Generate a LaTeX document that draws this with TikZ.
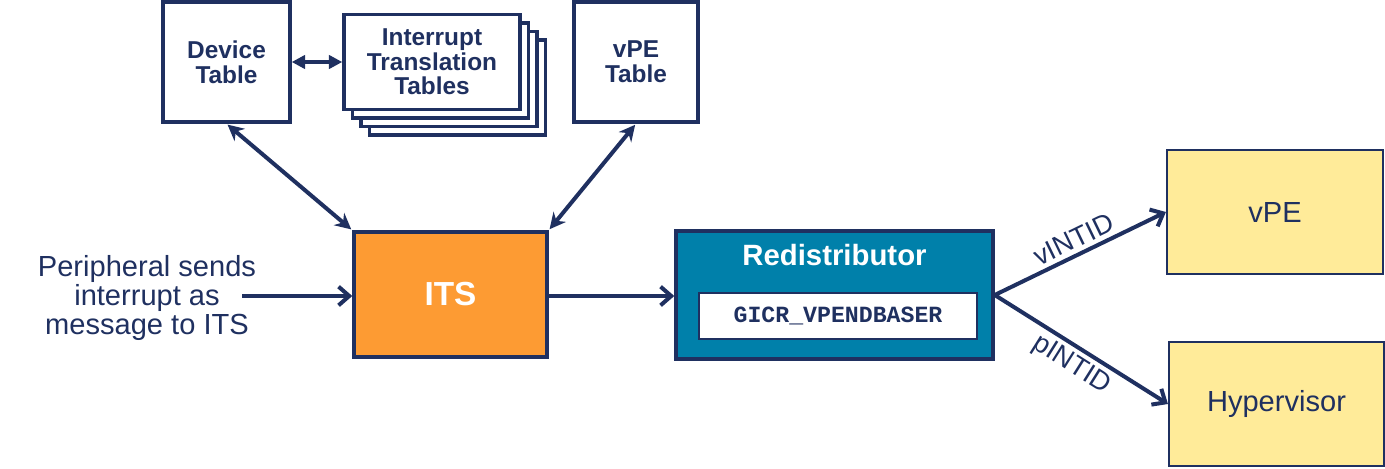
\documentclass[tikz,border=0pt]{standalone}
\usepackage{fontspec}
\setmainfont{Liberation Sans}
\newfontfamily\monof{Liberation Mono}
\usetikzlibrary{arrows.meta}
\definecolor{navy}{RGB}{31,48,96}
\definecolor{itsorange}{RGB}{253,155,51}
\definecolor{redteal}{RGB}{0,128,170}
\definecolor{paleyellow}{RGB}{255,235,153}
\tikzset{
  tablebox/.style={draw=navy, line width=2.6pt, fill=white, align=center,
    text=navy, font=\fontsize{18.3}{18.5}\selectfont\bfseries, inner sep=0pt},
  itsbox/.style={draw=navy, line width=2.6pt, fill=itsorange, text=white,
    font=\fontsize{25}{28}\selectfont\bfseries, inner sep=0pt},
  redbox/.style={draw=navy, line width=2.6pt, fill=redteal, inner sep=0pt},
  regbox/.style={draw=navy, line width=1.6pt, fill=white, text=navy,
    font=\monof\fontsize{17.4}{20}\selectfont\bfseries, inner sep=0pt},
  ybox/.style={draw=navy, line width=1.6pt, fill=paleyellow, text=navy,
    font=\fontsize{21.8}{24}\selectfont, inner sep=0pt},
  dblarrow/.style={draw=navy, line width=3pt, {Stealth[length=12pt,width=12pt]}-{Stealth[length=12pt,width=12pt]}},
  smalldbl/.style={draw=navy, line width=2.4pt, {Stealth[length=10pt,width=10pt,inset=0pt]}-{Stealth[length=10pt,width=10pt,inset=0pt]}},
  openarrow/.style={draw=navy, line width=3pt, -{Straight Barb[length=8pt,width=14pt,line width=3pt]}},
  lbl/.style={text=navy, font=\fontsize{20.5}{22}\selectfont}
}
\begin{document}
\begin{tikzpicture}[x=0.75pt,y=-0.75pt]
\useasboundingbox (0,0) rectangle (1385,468);

% Device Table
\node[tablebox, minimum width=95.25pt, minimum height=90pt] (dev) at (226.5,62) {Device\\Table};

% Interrupt Translation Tables (stack)
\node[tablebox, minimum width=132pt, minimum height=71.25pt] (itt3) at (457.5,87.5) {};
\node[tablebox, minimum width=132pt, minimum height=71.25pt] (itt2) at (449,79) {};
\node[tablebox, minimum width=132pt, minimum height=71.25pt] (itt1) at (440.5,70.5) {};
\node[tablebox, minimum width=132pt, minimum height=71.25pt] (itt) at (432,62) {Interrupt\\Translation\\Tables};

% vPE Table
\node[tablebox, minimum width=93pt, minimum height=90pt] (vpet) at (636,62) {vPE\\Table};

% ITS
\node[itsbox, minimum width=144.75pt, minimum height=93.75pt] (its) at (450.5,294.5) {ITS};

% Redistributor
\node[redbox, minimum width=237.75pt, minimum height=96pt] (red) at (834.5,295) {};
\node[text=white, font=\fontsize{22}{24}\selectfont\bfseries, inner sep=0pt] (redt) at (834.5,255) {Redistributor};
\node[regbox, minimum width=208.5pt, minimum height=34.5pt] (reg) at (838,316) {GICR\_VPENDBASER};

% vPE and Hypervisor
\node[ybox, minimum width=162pt, minimum height=93pt] (vpe) at (1275,212) {vPE};
\node[ybox, minimum width=161.25pt, minimum height=93pt] (hyp) at (1276.5,404) {Hypervisor};

% Peripheral text
\node[text=navy, align=center, font=\fontsize{21.8}{21.8}\selectfont, inner sep=0pt] (per) at (147,298) {Peripheral sends\\interrupt as\\message to ITS};
\coordinate (perend) at (242,296);

% Connectors
\draw[smalldbl] (dev.east) -- (itt.west);
\draw[dblarrow, shorten <=1pt, shorten >=1pt] (dev.south) -- (its.north west);
\draw[dblarrow, shorten <=1pt, shorten >=1pt] (vpet.south) -- (its.north east);
\draw[openarrow] (perend) -- (its.west |- perend);
\draw[openarrow] (its.east |- perend) -- (red.west |- perend);
\draw[openarrow] (red.east) -- (vpe.west) node[lbl, midway, above=0pt, sloped] {vINTID};
\draw[openarrow] (red.east) -- (hyp.west) node[lbl, midway, below=0pt, sloped] {pINTID};
\end{tikzpicture}
\end{document}
